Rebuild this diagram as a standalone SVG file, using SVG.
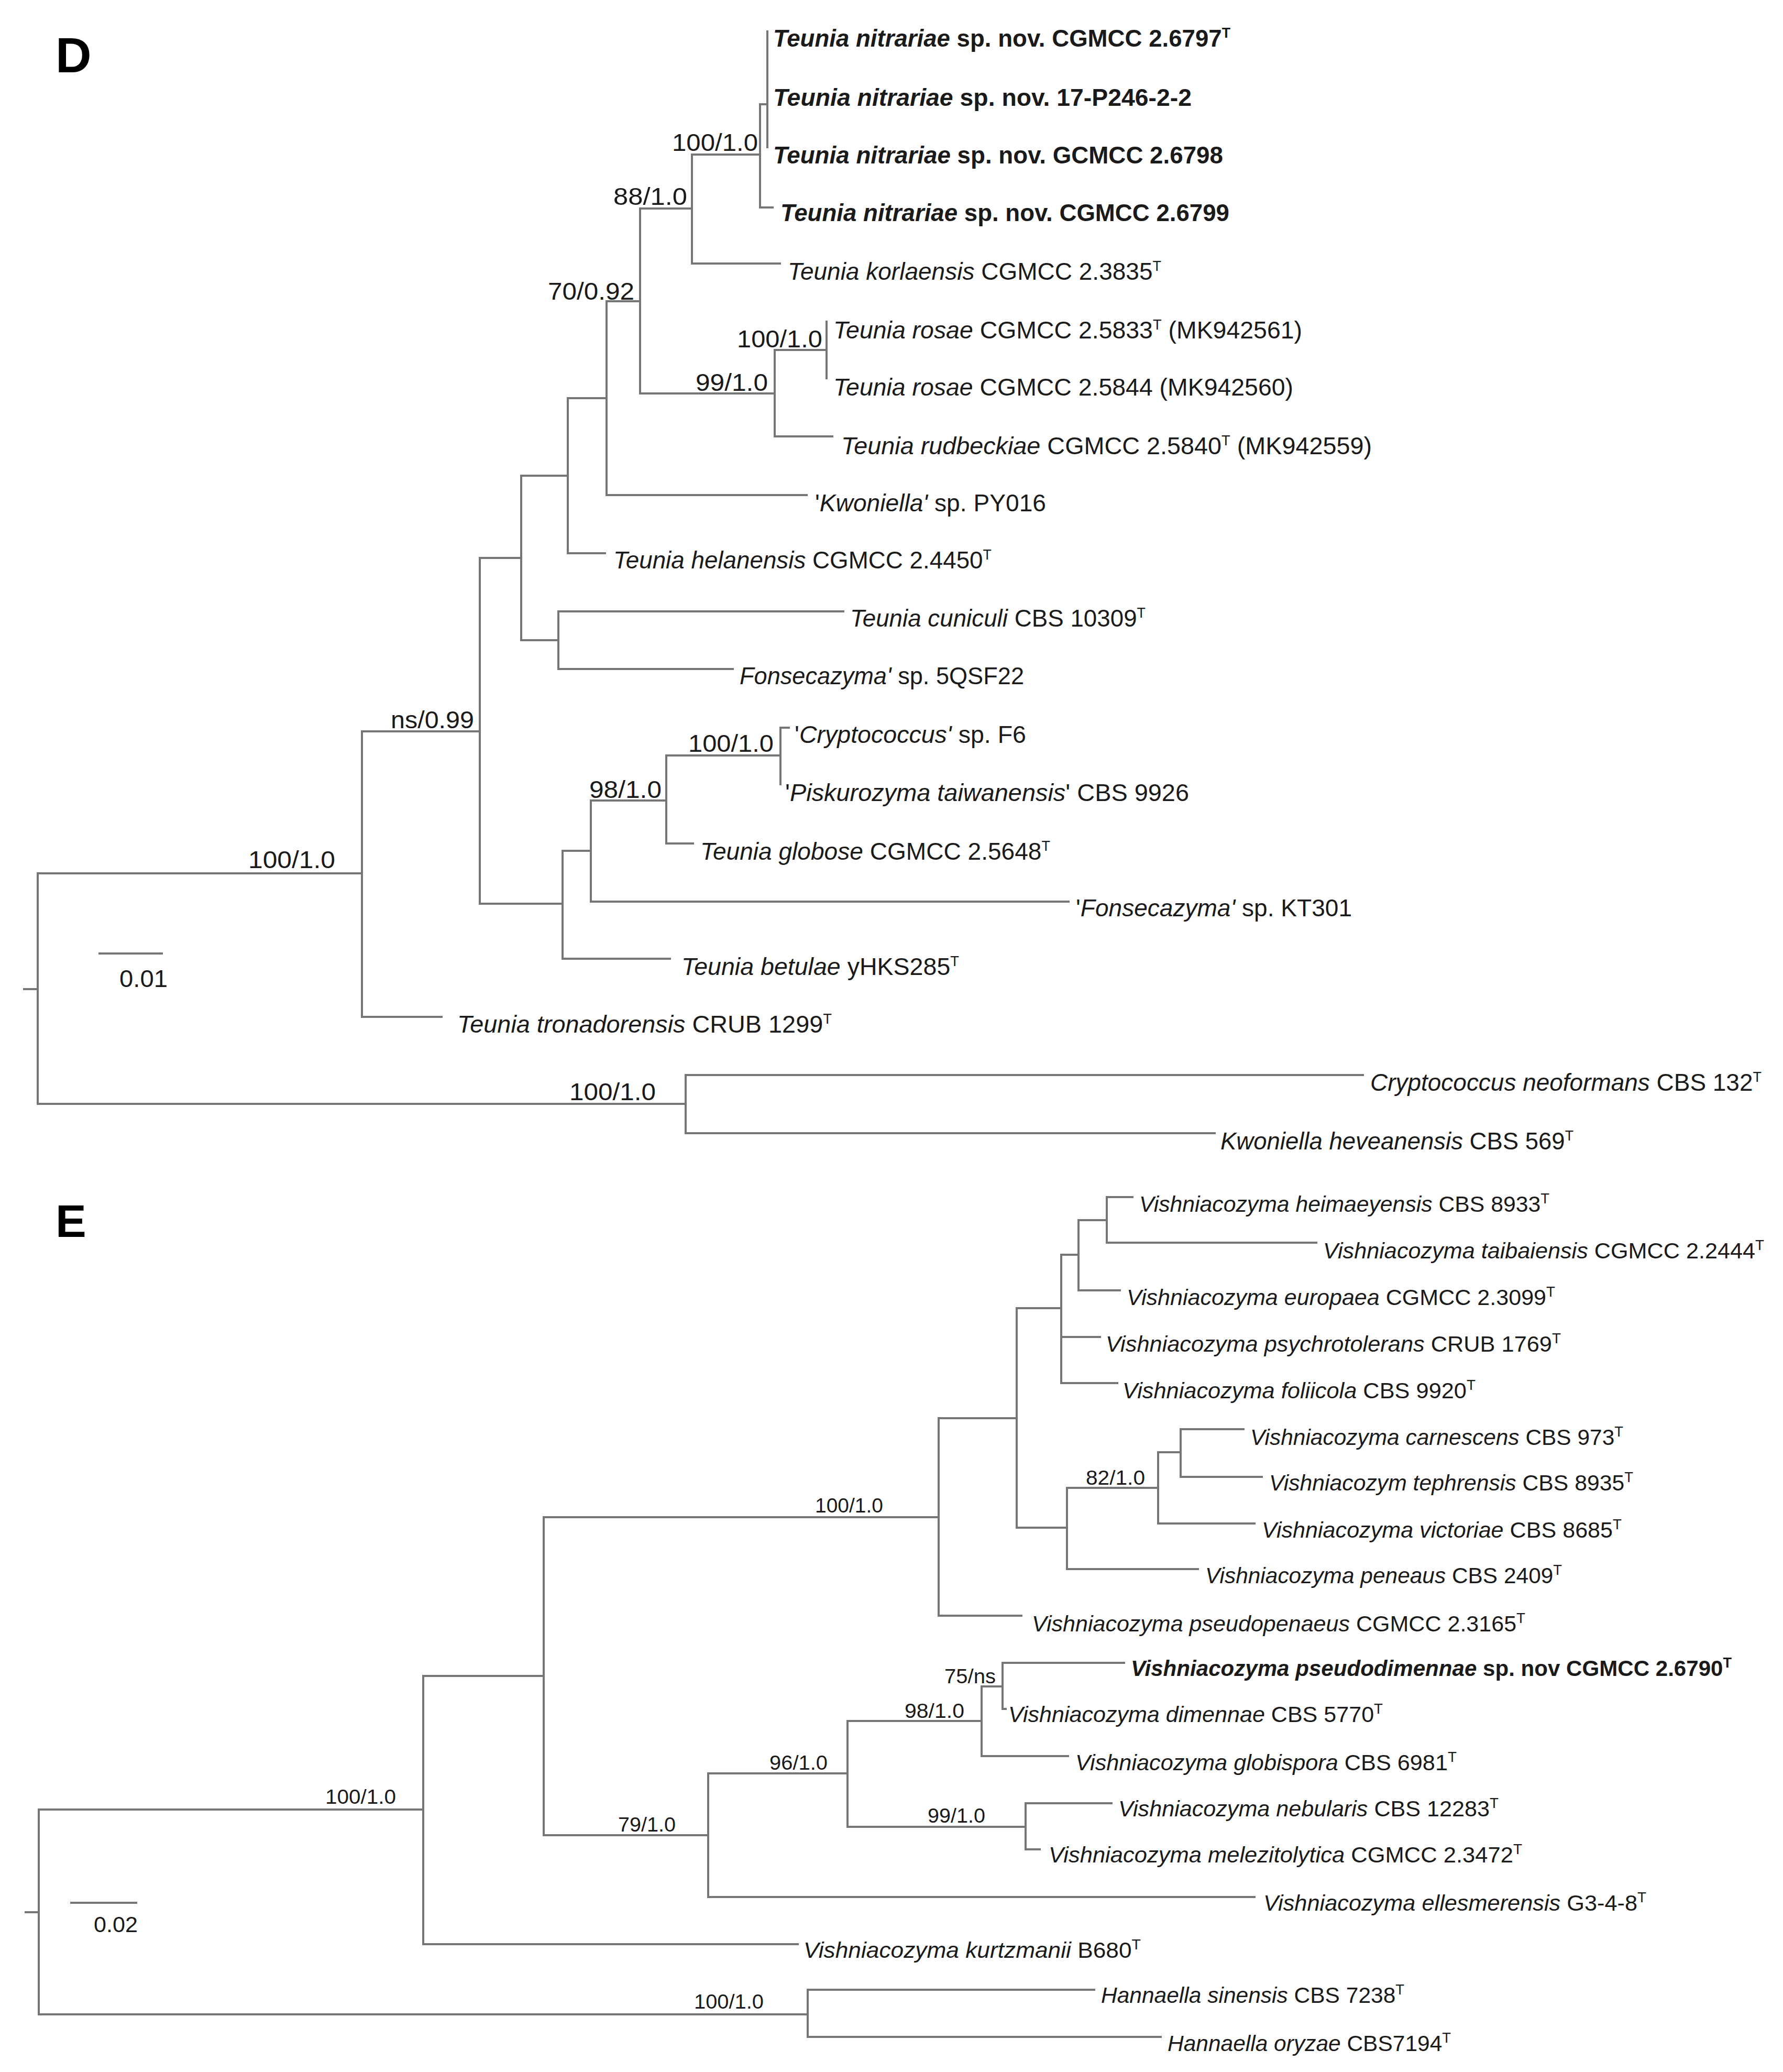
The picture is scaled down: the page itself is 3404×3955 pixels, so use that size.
<svg xmlns="http://www.w3.org/2000/svg" width="3404" height="3955" viewBox="0 0 3404 3955">
<style>
.bg{fill:#ffffff}
.br{stroke:#767676;stroke-width:4;fill:none;stroke-linecap:square}
.t{font-family:"Liberation Sans",Arial,sans-serif;font-size:46px;fill:#1a1a1a}
.te{font-family:"Liberation Sans",Arial,sans-serif;font-size:42px;fill:#1a1a1a}
.bs{font-family:"Liberation Sans",Arial,sans-serif;font-size:46px;fill:#1a1a1a}
.bse{font-family:"Liberation Sans",Arial,sans-serif;font-size:39px;fill:#1a1a1a}
.i{font-style:italic}
.b{font-weight:bold}
.sup{font-size:27px}
.panel{font-family:"Liberation Sans",Arial,sans-serif;font-weight:bold;fill:#000}
</style>
<rect class="bg" x="0" y="0" width="3404" height="3955"/>
<text class="panel" x="106" y="138" font-size="95">D</text>
<text class="panel" x="106" y="2361" font-size="88">E</text>
<g id="connectors">
<path class="br" d="M46,1888H72 M72,1667V2107 M72,1667H691 M691,1396V1941 M691,1396H916 M691,1941H843 M916,1065V1725 M916,1065H995 M995,908V1222 M995,908H1084 M1084,760V1056 M1084,760H1158 M1084,1056H1155 M1158,575V945 M1158,575H1222 M1158,945H1540 M1222,398V751 M1222,398H1321 M1222,751H1479 M1321,295V503 M1321,295H1451 M1321,503H1489 M1451,199V396 M1451,199H1465 M1451,396H1475 M1465,60V281 M1479,668V833 M1479,668H1578 M1479,833H1589 M1578,614V722 M995,1222H1066 M1066,1167V1277 M1066,1167H1610 M1066,1277H1399 M916,1725H1074 M1074,1624V1830 M1074,1624H1128 M1074,1830H1279 M1128,1528V1721 M1128,1528H1272 M1128,1721H2040 M1272,1442V1610 M1272,1442H1490 M1272,1610H1323 M1490,1389V1497 M1490,1389H1506 M72,2107H1309 M1309,2052V2163 M1309,2052H2602 M1309,2163H2319 M190,1820H309"/>
<path class="br" d="M49,3650H74 M74,3454V3845 M74,3454H808 M808,3199V3711 M808,3199H1038 M808,3711H1523 M1038,2896V3503 M1038,2896H1792 M1038,3503H1352 M1792,2707V3084 M1792,2707H1941 M1792,3084H1950 M1941,2497V2916 M1941,2497H2026 M1941,2916H2037 M2026,2395V2640 M2026,2395H2059 M2026,2552H2100 M2026,2640H2133 M2059,2329V2463 M2059,2329H2113 M2059,2463H2138 M2113,2285V2372 M2113,2285H2162 M2113,2372H2513 M2037,2840V2995 M2037,2840H2211 M2037,2995H2287 M2211,2772V2908 M2211,2772H2254 M2211,2908H2395 M2254,2728V2819 M2254,2728H2374 M2254,2819H2409 M1352,3385V3621 M1352,3385H1618 M1352,3621H2395 M1618,3285V3487 M1618,3285H1874 M1618,3487H1958 M1874,3219V3352 M1874,3219H1914 M1874,3352H2039 M1914,3174V3262 M1914,3174H2146 M1914,3262H1920 M1958,3442V3530 M1958,3442H2122 M1958,3530H1985 M74,3845H1542 M1542,3798V3888 M1542,3798H2089 M1542,3888H2216 M136,3632H260"/>
</g>
<g id="support-values">
<text class="bs" x="1283" y="288" textLength="164" lengthAdjust="spacingAndGlyphs">100/1.0</text>
<text class="bs" x="1171" y="391" textLength="141" lengthAdjust="spacingAndGlyphs">88/1.0</text>
<text class="bs" x="1046" y="572" textLength="165" lengthAdjust="spacingAndGlyphs">70/0.92</text>
<text class="bs" x="1407" y="663" textLength="163" lengthAdjust="spacingAndGlyphs">100/1.0</text>
<text class="bs" x="1328" y="746" textLength="138" lengthAdjust="spacingAndGlyphs">99/1.0</text>
<text class="bs" x="746" y="1390" textLength="159" lengthAdjust="spacingAndGlyphs">ns/0.99</text>
<text class="bs" x="1314" y="1435" textLength="163" lengthAdjust="spacingAndGlyphs">100/1.0</text>
<text class="bs" x="1125" y="1523" textLength="138" lengthAdjust="spacingAndGlyphs">98/1.0</text>
<text class="bs" x="474" y="1657" textLength="166" lengthAdjust="spacingAndGlyphs">100/1.0</text>
<text class="bs" x="1087" y="2100" textLength="165" lengthAdjust="spacingAndGlyphs">100/1.0</text>
<text class="bs" x="228" y="1884" textLength="92" lengthAdjust="spacingAndGlyphs">0.01</text>
<text class="bse" x="1556" y="2887" textLength="130" lengthAdjust="spacingAndGlyphs">100/1.0</text>
<text class="bse" x="2073" y="2834" textLength="113" lengthAdjust="spacingAndGlyphs">82/1.0</text>
<text class="bse" x="1803" y="3213" textLength="98" lengthAdjust="spacingAndGlyphs">75/ns</text>
<text class="bse" x="1727" y="3279" textLength="114" lengthAdjust="spacingAndGlyphs">98/1.0</text>
<text class="bse" x="1469" y="3378" textLength="111" lengthAdjust="spacingAndGlyphs">96/1.0</text>
<text class="bse" x="1771" y="3479" textLength="110" lengthAdjust="spacingAndGlyphs">99/1.0</text>
<text class="bse" x="1180" y="3496" textLength="110" lengthAdjust="spacingAndGlyphs">79/1.0</text>
<text class="bse" x="621" y="3443" textLength="135" lengthAdjust="spacingAndGlyphs">100/1.0</text>
<text class="bse" x="1325" y="3834" textLength="133" lengthAdjust="spacingAndGlyphs">100/1.0</text>
<text class="te" x="179" y="3688" textLength="84" lengthAdjust="spacingAndGlyphs">0.02</text>
</g>
<g id="taxa-D">
<g id="d-nitrariae-6797"><text class="t b" x="1476" y="89" textLength="873" lengthAdjust="spacingAndGlyphs"><tspan class="i">Teunia nitrariae</tspan> sp. nov. CGMCC 2.6797<tspan class="sup" dy="-17">T</tspan></text></g>
<g id="d-nitrariae-p246"><text class="t b" x="1476" y="202" textLength="799" lengthAdjust="spacingAndGlyphs"><tspan class="i">Teunia nitrariae</tspan> sp. nov. 17-P246-2-2</text></g>
<g id="d-nitrariae-6798"><text class="t b" x="1476" y="312" textLength="859" lengthAdjust="spacingAndGlyphs"><tspan class="i">Teunia nitrariae</tspan> sp. nov. GCMCC 2.6798</text></g>
<g id="d-nitrariae-6799"><text class="t b" x="1490" y="422" textLength="857" lengthAdjust="spacingAndGlyphs"><tspan class="i">Teunia nitrariae</tspan> sp. nov. CGMCC 2.6799</text></g>
<g id="d-korlaensis"><text class="t" x="1504" y="534" textLength="713" lengthAdjust="spacingAndGlyphs"><tspan class="i">Teunia korlaensis</tspan> CGMCC 2.3835<tspan class="sup" dy="-17">T</tspan></text></g>
<g id="d-rosae-5833"><text class="t" x="1591" y="646" textLength="895" lengthAdjust="spacingAndGlyphs"><tspan class="i">Teunia rosae</tspan> CGMCC 2.5833<tspan class="sup" dy="-17">T</tspan><tspan dy="17"> (MK942561)</tspan></text></g>
<g id="d-rosae-5844"><text class="t" x="1591" y="755" textLength="878" lengthAdjust="spacingAndGlyphs"><tspan class="i">Teunia rosae</tspan> CGMCC 2.5844 (MK942560)</text></g>
<g id="d-rudbeckiae"><text class="t" x="1606" y="867" textLength="1013" lengthAdjust="spacingAndGlyphs"><tspan class="i">Teunia rudbeckiae</tspan> CGMCC 2.5840<tspan class="sup" dy="-17">T</tspan><tspan dy="17"> (MK942559)</tspan></text></g>
<g id="d-kwoniella-py016"><text class="t" x="1556" y="976" textLength="441" lengthAdjust="spacingAndGlyphs">'<tspan class="i">Kwoniella'</tspan> sp. PY016</text></g>
<g id="d-helanensis"><text class="t" x="1171" y="1085" textLength="722" lengthAdjust="spacingAndGlyphs"><tspan class="i">Teunia helanensis</tspan> CGMCC 2.4450<tspan class="sup" dy="-17">T</tspan></text></g>
<g id="d-cuniculi"><text class="t" x="1623" y="1196" textLength="564" lengthAdjust="spacingAndGlyphs"><tspan class="i">Teunia cuniculi</tspan> CBS 10309<tspan class="sup" dy="-17">T</tspan></text></g>
<g id="d-fonsecazyma-5qsf22"><text class="t" x="1412" y="1306" textLength="543" lengthAdjust="spacingAndGlyphs"><tspan class="i">Fonsecazyma'</tspan> sp. 5QSF22</text></g>
<g id="d-cryptococcus-f6"><text class="t" x="1517" y="1418" textLength="442" lengthAdjust="spacingAndGlyphs">'<tspan class="i">Cryptococcus'</tspan> sp. F6</text></g>
<g id="d-piskurozyma"><text class="t" x="1499" y="1529" textLength="771" lengthAdjust="spacingAndGlyphs">'<tspan class="i">Piskurozyma taiwanensis</tspan>' CBS 9926</text></g>
<g id="d-globose"><text class="t" x="1337" y="1641" textLength="668" lengthAdjust="spacingAndGlyphs"><tspan class="i">Teunia globose</tspan> CGMCC 2.5648<tspan class="sup" dy="-17">T</tspan></text></g>
<g id="d-fonsecazyma-kt301"><text class="t" x="2054" y="1749" textLength="527" lengthAdjust="spacingAndGlyphs">'<tspan class="i">Fonsecazyma'</tspan> sp. KT301</text></g>
<g id="d-betulae"><text class="t" x="1301" y="1861" textLength="530" lengthAdjust="spacingAndGlyphs"><tspan class="i">Teunia betulae</tspan> yHKS285<tspan class="sup" dy="-17">T</tspan></text></g>
<g id="d-tronadorensis"><text class="t" x="873" y="1971" textLength="715" lengthAdjust="spacingAndGlyphs"><tspan class="i">Teunia tronadorensis</tspan> CRUB 1299<tspan class="sup" dy="-17">T</tspan></text></g>
<g id="d-neoformans"><text class="t" x="2616" y="2082" textLength="747" lengthAdjust="spacingAndGlyphs"><tspan class="i">Cryptococcus neoformans</tspan> CBS 132<tspan class="sup" dy="-17">T</tspan></text></g>
<g id="d-heveanensis"><text class="t" x="2330" y="2194" textLength="674" lengthAdjust="spacingAndGlyphs"><tspan class="i">Kwoniella heveanensis</tspan> CBS 569<tspan class="sup" dy="-17">T</tspan></text></g>
</g>
<g id="taxa-E">
<g id="e-heimaeyensis"><text class="te" x="2175" y="2313" textLength="783" lengthAdjust="spacingAndGlyphs"><tspan class="i">Vishniacozyma heimaeyensis</tspan> CBS 8933<tspan class="sup" dy="-16">T</tspan></text></g>
<g id="e-taibaiensis"><text class="te" x="2526" y="2402" textLength="842" lengthAdjust="spacingAndGlyphs"><tspan class="i">Vishniacozyma taibaiensis</tspan> CGMCC 2.2444<tspan class="sup" dy="-16">T</tspan></text></g>
<g id="e-europaea"><text class="te" x="2151" y="2491" textLength="818" lengthAdjust="spacingAndGlyphs"><tspan class="i">Vishniacozyma europaea</tspan> CGMCC 2.3099<tspan class="sup" dy="-16">T</tspan></text></g>
<g id="e-psychrotolerans"><text class="te" x="2111" y="2580" textLength="869" lengthAdjust="spacingAndGlyphs"><tspan class="i">Vishniacozyma psychrotolerans</tspan> CRUB 1769<tspan class="sup" dy="-16">T</tspan></text></g>
<g id="e-foliicola"><text class="te" x="2143" y="2669" textLength="674" lengthAdjust="spacingAndGlyphs"><tspan class="i">Vishniacozyma foliicola</tspan> CBS 9920<tspan class="sup" dy="-16">T</tspan></text></g>
<g id="e-carnescens"><text class="te" x="2387" y="2758" textLength="712" lengthAdjust="spacingAndGlyphs"><tspan class="i">Vishniacozyma carnescens</tspan> CBS 973<tspan class="sup" dy="-16">T</tspan></text></g>
<g id="e-tephrensis"><text class="te" x="2423" y="2845" textLength="695" lengthAdjust="spacingAndGlyphs"><tspan class="i">Vishniacozym tephrensis</tspan> CBS 8935<tspan class="sup" dy="-16">T</tspan></text></g>
<g id="e-victoriae"><text class="te" x="2409" y="2935" textLength="687" lengthAdjust="spacingAndGlyphs"><tspan class="i">Vishniacozyma victoriae</tspan> CBS 8685<tspan class="sup" dy="-16">T</tspan></text></g>
<g id="e-peneaus"><text class="te" x="2301" y="3022" textLength="681" lengthAdjust="spacingAndGlyphs"><tspan class="i">Vishniacozyma peneaus</tspan> CBS 2409<tspan class="sup" dy="-16">T</tspan></text></g>
<g id="e-pseudopenaeus"><text class="te" x="1970" y="3114" textLength="942" lengthAdjust="spacingAndGlyphs"><tspan class="i">Vishniacozyma pseudopenaeus</tspan> CGMCC 2.3165<tspan class="sup" dy="-16">T</tspan></text></g>
<g id="e-pseudodimennae"><text class="te b" x="2159" y="3199" textLength="1147" lengthAdjust="spacingAndGlyphs"><tspan class="i">Vishniacozyma pseudodimennae</tspan> sp. nov CGMCC 2.6790<tspan class="sup" dy="-16">T</tspan></text></g>
<g id="e-dimennae"><text class="te" x="1925" y="3287" textLength="715" lengthAdjust="spacingAndGlyphs"><tspan class="i">Vishniacozyma dimennae</tspan> CBS 5770<tspan class="sup" dy="-16">T</tspan></text></g>
<g id="e-globispora"><text class="te" x="2053" y="3379" textLength="728" lengthAdjust="spacingAndGlyphs"><tspan class="i">Vishniacozyma globispora</tspan> CBS 6981<tspan class="sup" dy="-16">T</tspan></text></g>
<g id="e-nebularis"><text class="te" x="2135" y="3467" textLength="726" lengthAdjust="spacingAndGlyphs"><tspan class="i">Vishniacozyma nebularis</tspan> CBS 12283<tspan class="sup" dy="-16">T</tspan></text></g>
<g id="e-melezitolytica"><text class="te" x="2002" y="3555" textLength="904" lengthAdjust="spacingAndGlyphs"><tspan class="i">Vishniacozyma melezitolytica</tspan> CGMCC 2.3472<tspan class="sup" dy="-16">T</tspan></text></g>
<g id="e-ellesmerensis"><text class="te" x="2412" y="3647" textLength="731" lengthAdjust="spacingAndGlyphs"><tspan class="i">Vishniacozyma ellesmerensis</tspan> G3-4-8<tspan class="sup" dy="-16">T</tspan></text></g>
<g id="e-kurtzmanii"><text class="te" x="1534" y="3737" textLength="644" lengthAdjust="spacingAndGlyphs"><tspan class="i">Vishniacozyma kurtzmanii</tspan> B680<tspan class="sup" dy="-16">T</tspan></text></g>
<g id="e-sinensis"><text class="te" x="2102" y="3823" textLength="579" lengthAdjust="spacingAndGlyphs"><tspan class="i">Hannaella sinensis</tspan> CBS 7238<tspan class="sup" dy="-16">T</tspan></text></g>
<g id="e-oryzae"><text class="te" x="2229" y="3915" textLength="541" lengthAdjust="spacingAndGlyphs"><tspan class="i">Hannaella oryzae</tspan> CBS7194<tspan class="sup" dy="-16">T</tspan></text></g>
</g>
</svg>
